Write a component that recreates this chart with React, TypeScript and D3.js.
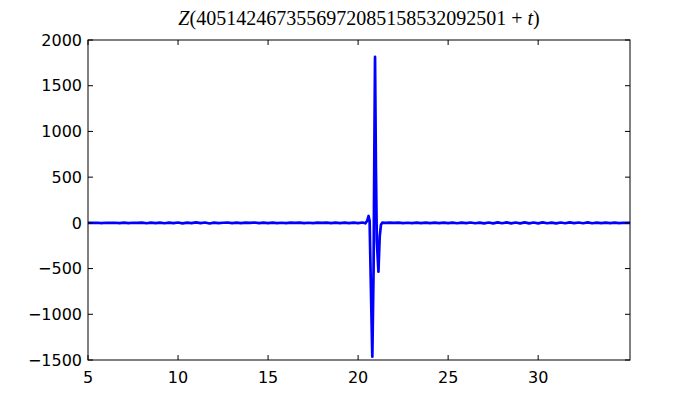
import * as d3 from "d3";
import React from "react";

// [t, Z] samples
const leftPoints: [number, number][] = [
  [5.0, 0], [5.25, -1], [5.5, 1], [5.75, -2], [6.0, 1], [6.25, -1], [6.5, 1], [6.75, -2],
  [7.0, 2], [7.25, -3], [7.5, 1], [7.75, -1], [8.0, 2], [8.25, -4], [8.5, 3], [8.75, -2],
  [9.0, 3], [9.25, -4], [9.5, 2], [9.75, -3], [10.0, 4], [10.25, -5], [10.5, 2], [10.75, -3],
  [11.0, 6], [11.25, -3], [11.5, 4], [11.75, -7], [12.0, 3], [12.25, -2], [12.5, 1], [12.75, 4],
  [13.0, -2], [13.25, 3], [13.5, -3], [13.75, 2], [14.0, -1], [14.25, 4], [14.5, -2], [14.75, 2],
  [15.0, -3], [15.25, 3], [15.5, -2], [15.75, 1], [16.0, -2], [16.25, 2], [16.5, -1], [16.75, 2],
  [17.0, -2], [17.25, 1], [17.5, -3], [17.75, 2], [18.0, -1], [18.25, 2], [18.5, -2], [18.75, 3],
  [19.0, -2], [19.25, 2], [19.5, -3], [19.75, 3], [20.0, -2], [20.25, 4],
];

const spikePoints: [number, number][] = [
  [20.4, -5], [20.5, 20], [20.58, 75], [20.64, 20], [20.7, -600], [20.79, -1464],
  [20.86, -500], [20.9, 700], [20.94, 1815], [20.99, 600], [21.04, -200], [21.13, -534],
  [21.2, -150], [21.27, -20], [21.35, 3], [21.5, -1],
];

const rightPoints: [number, number][] = [
  [21.75, 2], [22.0, -1], [22.25, 2], [22.5, -2], [22.75, 1], [23.0, -2], [23.25, 3], [23.5, -2],
  [23.75, 2], [24.0, -3], [24.25, 2], [24.5, -2], [24.75, 3], [25.0, -3], [25.25, 2], [25.5, -4],
  [25.75, 3], [26.0, -3], [26.25, 4], [26.5, -4], [26.75, 3], [27.0, -5], [27.25, 4], [27.5, -6],
  [27.75, 5], [28.0, -4], [28.25, 5], [28.5, -6], [28.75, 4], [29.0, -5], [29.25, 6], [29.5, -5],
  [29.75, 4], [30.0, -6], [30.25, 5], [30.5, -4], [30.75, 3], [31.0, -5], [31.25, 4], [31.5, -4],
  [31.75, 5], [32.0, -3], [32.25, 4], [32.5, -4], [32.75, 6], [33.0, -4], [33.25, 3], [33.5, -3],
  [33.75, 2], [34.0, -2], [34.25, 2], [34.5, -2], [34.75, 1], [35.1, -1],
];

const xTicks = [5, 10, 15, 20, 25, 30];
const yTicks = [-1500, -1000, -500, 0, 500, 1000, 1500, 2000];
const titleDigits = "4051424673556972085158532092501";

const W = 700;
const H = 400;
const m = { left: 88, right: 70, top: 40, bottom: 40 };
const tickLen = 5;

export default function App() {
  const data = [...leftPoints, ...spikePoints, ...rightPoints];
  const x = d3.scaleLinear().domain([5, 35.1]).range([m.left, W - m.right]);
  const y = d3.scaleLinear().domain([-1500, 2000]).range([H - m.bottom, m.top]);
  const line = d3.line<[number, number]>().x(d => x(d[0])).y(d => y(d[1]));
  const fmt = (v: number) => (v < 0 ? "\u2212" + Math.abs(v) : String(v));
  const x0 = m.left, x1 = W - m.right, y0 = m.top, y1 = H - m.bottom;

  return (
    <svg width={W} height={H} style={{ position: "absolute", left: 0, top: 0, background: "#fff" }}>
      <defs>
        <clipPath id="plot">
          <rect x={x0} y={y0} width={x1 - x0} height={y1 - y0} />
        </clipPath>
      </defs>
      <rect x={0} y={0} width={W} height={H} fill="#fff" />
      <path d={line(data) ?? ""} fill="none" stroke="#0000ff" strokeWidth={2.7}
        strokeLinejoin="round" clipPath="url(#plot)" />
      <rect x={x0} y={y0} width={x1 - x0} height={y1 - y0} fill="none" stroke="#000" strokeWidth={1} />
      <g stroke="#000" strokeWidth={1}>
        {xTicks.map(t => (
          <g key={t}>
            <line x1={x(t)} x2={x(t)} y1={y1} y2={y1 - tickLen} />
            <line x1={x(t)} x2={x(t)} y1={y0} y2={y0 + tickLen} />
          </g>
        ))}
        {yTicks.map(t => (
          <g key={t}>
            <line x1={x0} x2={x0 + tickLen} y1={y(t)} y2={y(t)} />
            <line x1={x1} x2={x1 - tickLen} y1={y(t)} y2={y(t)} />
          </g>
        ))}
      </g>
      <g fontFamily="DejaVu Sans" fontSize={16} fill="#000">
        {xTicks.map(t => (
          <text key={t} x={x(t)} y={y1 + 23} textAnchor="middle">{fmt(t)}</text>
        ))}
        {yTicks.map(t => (
          <text key={t} x={x0 - 6} y={y(t)} dy="0.36em" textAnchor="end">{fmt(t)}</text>
        ))}
      </g>
      <text x={(x0 + x1) / 2} y={25} textAnchor="middle" fontFamily="Liberation Serif" fontSize={20}>
        <tspan fontStyle="italic">Z</tspan>
        <tspan>({titleDigits} + </tspan>
        <tspan fontStyle="italic">t</tspan>
        <tspan>)</tspan>
      </text>
    </svg>
  );
}
